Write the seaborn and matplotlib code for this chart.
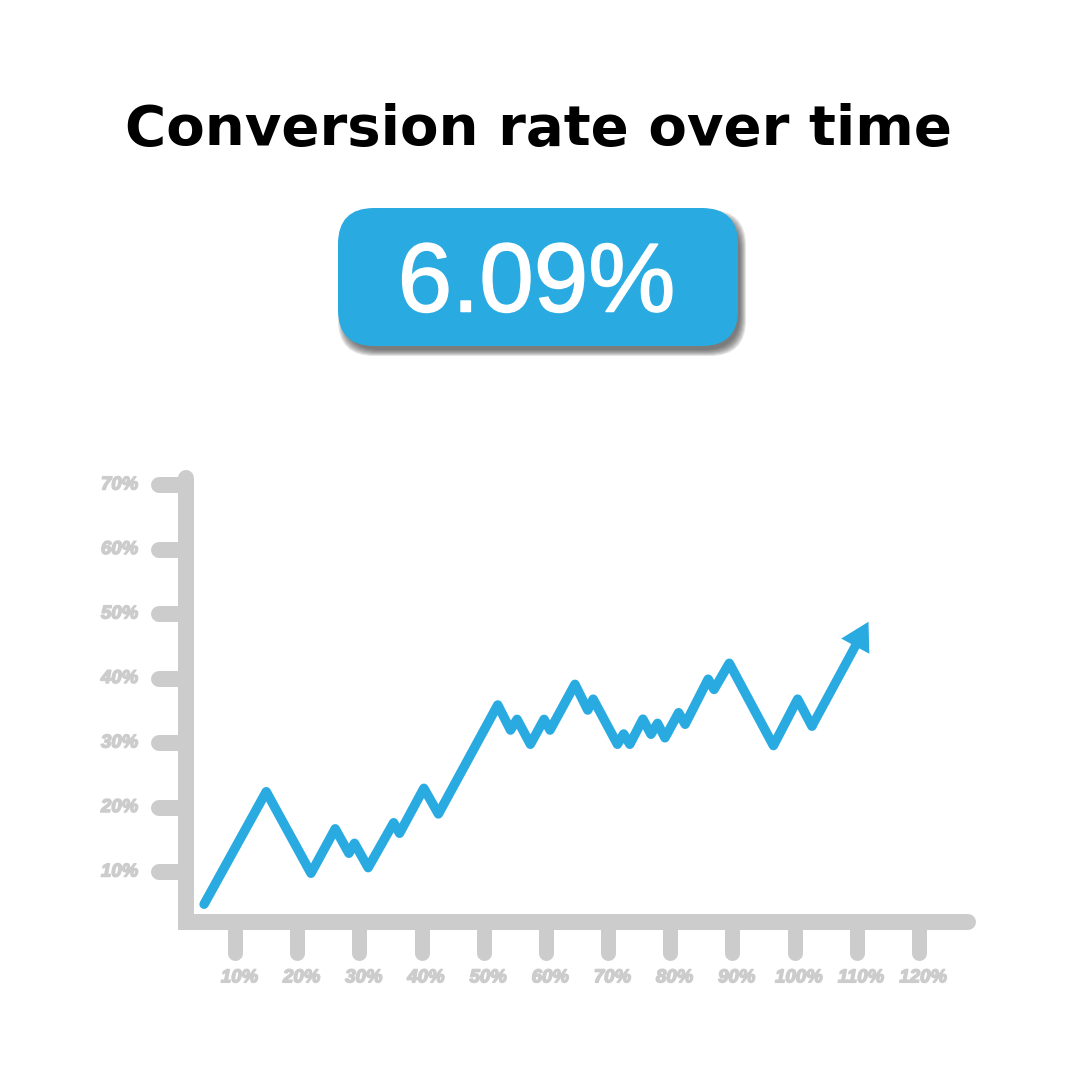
import numpy as np
import pandas as pd
import matplotlib
matplotlib.use("Agg")
import matplotlib.pyplot as plt
import matplotlib.patheffects as pe
import seaborn as sns
from matplotlib.patches import FancyBboxPatch

# --- data ---
title = "Conversion rate over time"
kpi_label = "6.09%"

x_ticks = [10, 20, 30, 40, 50, 60, 70, 80, 90, 100, 110, 120]
y_ticks = [10, 20, 30, 40, 50, 60, 70]

x_vals = [5.0, 15.0, 22.2, 26.1, 28.3, 29.2, 31.4, 35.5, 36.45, 40.36, 42.7,
          52.25, 54.3, 55.36, 57.5, 59.7, 60.66, 64.67, 66.73, 67.6, 71.5,
          72.5, 73.5, 75.6, 76.9, 77.96, 79.15, 81.35, 82.4, 86.1, 87.05,
          89.5, 96.6, 100.5, 102.8]
y_vals = [5.0, 22.45, 9.8, 16.7, 12.9, 14.45, 10.67, 17.64, 16.0, 22.98, 19.0,
          35.9, 32.0, 33.67, 29.8, 33.67, 32.0, 39.1, 35.1, 36.8, 29.8,
          31.4, 29.8, 33.7, 31.35, 33.05, 30.8, 34.7, 32.9, 39.9, 38.3,
          42.36, 29.6, 36.8, 32.6]
arrow_tip = (111.9, 48.8)

BLUE = "#29abe2"
GREY = "#cccccc"

df = pd.DataFrame({"x": x_vals, "y": y_vals})

sns.set_theme(style="white")
plt.rcParams["font.family"] = ["DejaVu Sans"]

fig = plt.figure(figsize=(10.8, 10.8), dpi=100)
fig.patch.set_facecolor("white")

# background overlay in pixel coordinates for title / KPI badge
bg = fig.add_axes([0, 0, 1, 1], zorder=0)
bg.set_xlim(0, 1080)
bg.set_ylim(1080, 0)
bg.axis("off")

# blurred drop shadow under the badge
for grow in [4, 3, 2, 1, 0, -1, -2]:
    bg.add_patch(FancyBboxPatch((338 + 4 - grow, 208 + 6 - grow), 400 + 2 * grow, 138 + 2 * grow,
                                boxstyle="round,pad=0,rounding_size=36",
                                fc="#3a3a3a", ec="none", alpha=0.14, zorder=1))
bg.add_patch(FancyBboxPatch((338, 208), 400, 138,
                            boxstyle="round,pad=0,rounding_size=36",
                            fc=BLUE, ec="none", zorder=2))

fig.text(0.4986, 1 - 145 / 1080, title, ha="center", va="baseline",
         fontsize=40.5, fontweight="bold", color="black", family="DejaVu Sans")
fig.text(0.4968, 1 - 311.5 / 1080, kpi_label, ha="center", va="baseline",
         fontsize=70.5, color="white", family="Liberation Sans", zorder=5,
         path_effects=[pe.withStroke(linewidth=1.1, foreground="white")])

# main chart
ax = fig.add_axes([173 / 1080, (1080 - 936.5) / 1080, 808 / 1080, 464.4 / 1080], zorder=2)
ax.set_facecolor("none")
ax.set_xlim(0, 130)
ax.set_ylim(0, 72)
ax.axis("off")

label_fx = [pe.withStroke(linewidth=1.1, foreground=GREY)]

axis_x0, axis_y0 = 2.1, 2.3
ax.plot([axis_x0, axis_x0, 127.9], [71.1, axis_y0, axis_y0], color=GREY, lw=11.5,
        solid_capstyle="round", solid_joinstyle="miter", clip_on=False, zorder=1)
for yt in y_ticks:
    ax.plot([-2.25, axis_x0], [yt, yt], color=GREY, lw=11.5,
            solid_capstyle="round", clip_on=False, zorder=1)
    ax.text(-5.6, yt, f"{yt}%", ha="right", va="center", color=GREY,
            fontsize=13.4, fontweight="bold", fontstyle="italic",
            family="Liberation Sans", clip_on=False, path_effects=label_fx)
for xt in x_ticks:
    ax.plot([xt, xt], [axis_y0, -2.5], color=GREY, lw=10.8,
            solid_capstyle="round", clip_on=False, zorder=1)
    ax.text(xt + 0.7, -6.4, f"{xt}%", ha="center", va="center", color=GREY,
            fontsize=13.4, fontweight="bold", fontstyle="italic",
            family="Liberation Sans", clip_on=False, path_effects=label_fx)

sns.lineplot(data=df, x="x", y="y", ax=ax, color=BLUE, lw=6.8, sort=False,
             estimator=None, zorder=3)
for ln in ax.get_lines()[-1:]:
    ln.set_solid_joinstyle("round")
    ln.set_solid_capstyle("round")
    ln.set_clip_on(False)

# final rising segment with a filled arrow head
ax.annotate("", xy=arrow_tip, xytext=(x_vals[-1], y_vals[-1]),
            arrowprops=dict(arrowstyle="simple,head_length=20,head_width=23,tail_width=6.6",
                            mutation_scale=1, fc=BLUE, ec="none", lw=0,
                            shrinkA=0, shrinkB=0),
            zorder=3)

fig.savefig("out.png", dpi=100, facecolor="white")
